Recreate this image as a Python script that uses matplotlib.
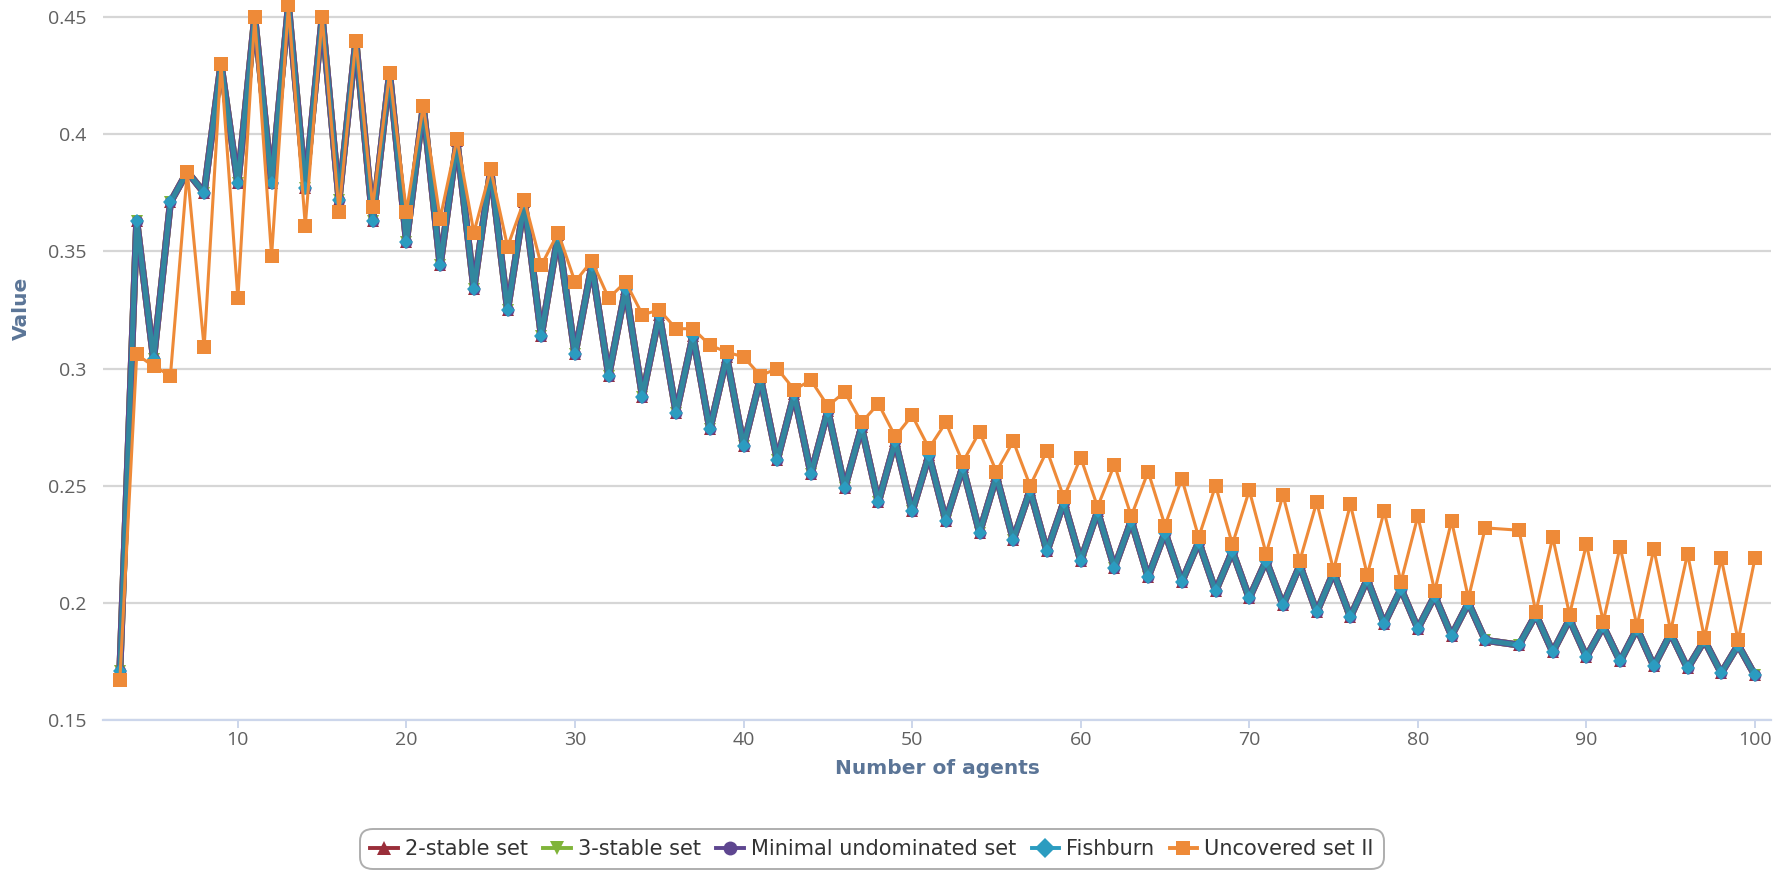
import matplotlib
matplotlib.use("Agg")
import matplotlib.pyplot as plt
from matplotlib.lines import Line2D

# ---------------- data ----------------
agents = [3, 4, 5, 6, 7, 8, 9, 10, 11, 12, 13, 14, 15, 16, 17, 18, 19, 20,
          21, 22, 23, 24, 25, 26, 27, 28, 29, 30, 31, 32, 33, 34, 35, 36, 37, 38,
          39, 40, 41, 42, 43, 44, 45, 46, 47, 48, 49, 50, 51, 52, 53, 54, 55, 56,
          57, 58, 59, 60, 61, 62, 63, 64, 65, 66, 67, 68, 69, 70, 71, 72, 73, 74,
          75, 76, 77, 78, 79, 80, 81, 82, 83, 84, 86, 87, 88, 89, 90, 91, 92, 93,
          94, 95, 96, 97, 98, 99, 100]

fishburn = [0.171, 0.363, 0.304, 0.371, 0.384, 0.375, 0.430, 0.379, 0.450, 0.379,
            0.455, 0.377, 0.450, 0.372, 0.440, 0.363, 0.426, 0.354, 0.412, 0.344,
            0.397, 0.334, 0.385, 0.325, 0.371, 0.314, 0.357, 0.306, 0.344, 0.297,
            0.334, 0.288, 0.323, 0.281, 0.314, 0.274, 0.305, 0.267, 0.296, 0.261,
            0.289, 0.255, 0.282, 0.249, 0.275, 0.243, 0.269, 0.239, 0.263, 0.235,
            0.258, 0.230, 0.254, 0.227, 0.248, 0.222, 0.243, 0.218, 0.239, 0.215,
            0.235, 0.211, 0.230, 0.209, 0.226, 0.205, 0.222, 0.202, 0.218, 0.199,
            0.216, 0.196, 0.213, 0.194, 0.210, 0.191, 0.206, 0.189, 0.203, 0.186,
            0.200, 0.184, 0.182, 0.195, 0.179, 0.193, 0.177, 0.190, 0.175, 0.189,
            0.173, 0.187, 0.172, 0.184, 0.170, 0.182, 0.169]

# the three other rules coincide with Fishburn at this resolution
two_stable = list(fishburn)
three_stable = list(fishburn)
minimal_undominated = list(fishburn)

uncovered_ii = [0.167, 0.306, 0.301, 0.297, 0.384, 0.309, 0.430, 0.330, 0.450, 0.348,
                0.455, 0.361, 0.450, 0.367, 0.440, 0.369, 0.426, 0.367, 0.412, 0.364,
                0.398, 0.358, 0.385, 0.352, 0.372, 0.344, 0.358, 0.337, 0.346, 0.330,
                0.337, 0.323, 0.325, 0.317, 0.317, 0.310, 0.307, 0.305, 0.297, 0.300,
                0.291, 0.295, 0.284, 0.290, 0.277, 0.285, 0.271, 0.280, 0.266, 0.277,
                0.260, 0.273, 0.256, 0.269, 0.250, 0.265, 0.245, 0.262, 0.241, 0.259,
                0.237, 0.256, 0.233, 0.253, 0.228, 0.250, 0.225, 0.248, 0.221, 0.246,
                0.218, 0.243, 0.214, 0.242, 0.212, 0.239, 0.209, 0.237, 0.205, 0.235,
                0.202, 0.232, 0.231, 0.196, 0.228, 0.195, 0.225, 0.192, 0.224, 0.190,
                0.223, 0.188, 0.221, 0.185, 0.219, 0.184, 0.219]

series_names = ["2-stable set", "3-stable set", "Minimal undominated set",
                "Fishburn", "Uncovered set II"]
y_ticks = [0.15, 0.2, 0.25, 0.3, 0.35, 0.4, 0.45]
y_tick_labels = ["0.15", "0.2", "0.25", "0.3", "0.35", "0.4", "0.45"]
x_ticks = [10, 20, 30, 40, 50, 60, 70, 80, 90, 100]

# ---------------- figure ----------------
W, H = 1789, 874
fig = plt.figure(figsize=(W / 100, H / 100), dpi=100)
ax = fig.add_axes([103 / W, (H - 720) / H, (1771 - 103) / W, 720 / H])

colors = {
    "2-stable set": "#9a2e3a",
    "3-stable set": "#80b43a",
    "Minimal undominated set": "#5e4690",
    "Fishburn": "#2b9cc0",
    "Uncovered set II": "#ee8a38",
}
line_colors = dict(colors)
line_colors["Fishburn"] = "#32879e"
markers = {
    "2-stable set": "^",
    "3-stable set": "v",
    "Minimal undominated set": "o",
    "Fishburn": "D",
    "Uncovered set II": "s",
}
data = {
    "2-stable set": two_stable,
    "3-stable set": three_stable,
    "Minimal undominated set": minimal_undominated,
    "Fishburn": fishburn,
    "Uncovered set II": uncovered_ii,
}
lw = {"2-stable set": 5.0, "3-stable set": 5.0, "Minimal undominated set": 5.0,
      "Fishburn": 3.6, "Uncovered set II": 2.2}
ms = {"2-stable set": 8.5, "3-stable set": 8.5, "Minimal undominated set": 8.5,
      "Fishburn": 7, "Uncovered set II": 9.5}

for i, name in enumerate(series_names):
    ax.plot(agents, data[name], color=line_colors[name], lw=lw[name],
            marker=markers[name], markersize=ms[name],
            markerfacecolor=colors[name], markeredgewidth=0,
            zorder=3 + i, clip_on=False)

ax.set_xlim(2.0, 100.95)
ax.set_ylim(0.15, 0.4573)
ax.set_yticks(y_ticks)
ax.set_yticklabels(y_tick_labels)
ax.set_xticks(x_ticks)

ax.grid(axis="y", color="#d6d6d6", lw=1.6, zorder=0)
ax.set_axisbelow(True)
for side in ["top", "right", "left"]:
    ax.spines[side].set_visible(False)
ax.spines["bottom"].set_color("#ccd6eb")
ax.spines["bottom"].set_linewidth(1.6)
ax.spines["bottom"].set_zorder(1)

tick_font = "Open Sans"
ax.tick_params(axis="y", length=0, pad=12, labelsize=14, labelcolor="#606060")
ax.tick_params(axis="x", length=6, width=1.4, color="#ccd6eb", pad=2,
               labelsize=14, labelcolor="#606060")
for lab in ax.get_xticklabels() + ax.get_yticklabels():
    lab.set_family(tick_font)

title_color = "#5b7597"
ax.set_xlabel("Number of agents", fontsize=14.5, fontweight="bold",
              color=title_color)
ax.xaxis.set_label_coords(0.5, -(769 - 720) / 720)
ax.xaxis.label.set_va("center")
ax.set_ylabel("Value", fontsize=14.5, fontweight="bold", color=title_color)
ax.yaxis.set_label_coords(-(103 - 21) / (1771 - 103), 1 - 308 / 720)
ax.yaxis.label.set_va("center")

# ---------------- legend ----------------
handles = [Line2D([0], [0], color=colors[n], lw=2.8, marker=markers[n],
                  markersize=10, markeredgewidth=0) for n in series_names]
leg = fig.legend(handles, series_names, loc="center",
                 bbox_to_anchor=(872 / W, (H - 849) / H), ncol=5,
                 frameon=True, fancybox=True, fontsize=15,
                 handlelength=1.3, handletextpad=0.35, columnspacing=0.75,
                 borderpad=0.5, labelcolor="#333333")
frame = leg.get_frame()
frame.set_edgecolor("#9a9a9a")
frame.set_linewidth(1.4)
frame.set_boxstyle("round,pad=0,rounding_size=0.6")

fig.savefig("out.png", dpi=100)
